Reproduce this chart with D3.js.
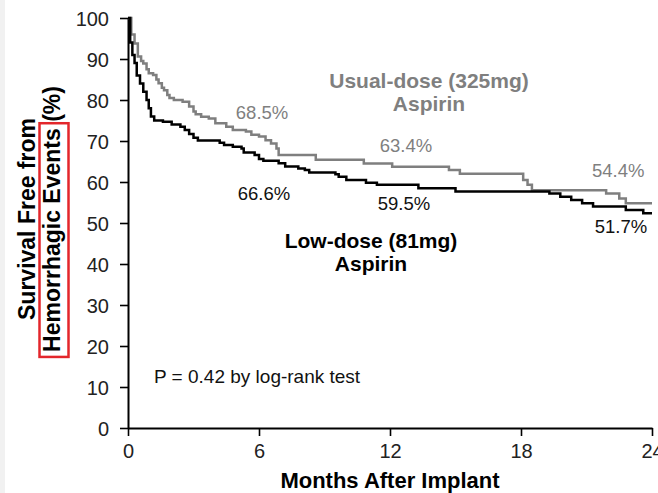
<!DOCTYPE html>
<html>
<head>
<meta charset="utf-8">
<script src="https://cdn.jsdelivr.net/npm/d3@7"></script>
<style>
  body { margin: 0; background: #fff; }
  svg { display: block; font-family: "Liberation Sans", Arial, sans-serif; }
</style>
</head>
<body>
<div id="chart"></div>
<script>
// Kaplan-Meier steps: [month, % free of events]
const lowDose = [
  [0, 100], [0.1, 94], [0.2, 91], [0.3, 89], [0.4, 86], [0.55, 84], [0.7, 82],
  [0.85, 80], [0.95, 78], [1.05, 76], [1.2, 75], [1.6, 74.7], [2.0, 74],
  [2.4, 73.5], [2.6, 72.7], [2.8, 71.7], [3.0, 70.8], [3.2, 70.1], [4.2, 69.6],
  [4.4, 69], [4.8, 68.6], [5.2, 68.2], [5.3, 67.2], [5.8, 66.6], [6.0, 65.6],
  [6.2, 65.2], [6.9, 64.6], [7.2, 63.8], [7.8, 63.3], [8.1, 62.9], [8.3, 62.3],
  [9.5, 61.9], [9.65, 61.3], [10.0, 60.5], [10.9, 59.8], [11.4, 59.3],
  [13.3, 58.5], [15.0, 57.7], [19.3, 57.2], [19.8, 56.4], [20.3, 55.6],
  [20.8, 54.8], [21.3, 54.0], [22.8, 53.2], [23.6, 52.4], [24, 52.4]
];
const usualDose = [
  [0, 100], [0.15, 96], [0.3, 93.8], [0.45, 90.6], [0.6, 89.5], [0.7, 88.9],
  [0.85, 87.5], [0.95, 86.5], [1.15, 86.1], [1.3, 85], [1.4, 84.1], [1.55, 83],
  [1.65, 82.4], [1.8, 81.2], [1.9, 80.5], [2.1, 80], [2.5, 79.6], [2.8, 78.4],
  [3.0, 77.2], [3.1, 76.5], [3.35, 75.9], [3.7, 75.5], [4.0, 74.3], [4.5, 73.5],
  [4.8, 72.7], [5.4, 72.3], [5.65, 71.5], [6.0, 71.1], [6.3, 70.2], [6.55, 69.4],
  [6.8, 68.2], [6.9, 66.6], [8.6, 65.4], [10.8, 64.5], [12.1, 63.7],
  [14.7, 62.9], [15.2, 62.0], [18.1, 60.5], [18.3, 59.3], [18.5, 58],
  [21.9, 57.2], [22.5, 56], [22.8, 54.8], [24, 54.8]
];
const xTicks = [0, 6, 12, 18, 24];
const yTicks = [0, 10, 20, 30, 40, 50, 60, 70, 80, 90, 100];
const usualLabels = ['68.5%', '63.4%', '54.4%'];
const lowLabels = ['66.6%', '59.5%', '51.7%'];

const width = 658, height = 493;
const margin = { top: 18, right: 6, bottom: 65, left: 128 };
const gray = '#7f7f7f';

const svg = d3.select('#chart').append('svg')
  .attr('width', width).attr('height', height);

// faint grey strip on the left edge of the scan
svg.append('rect').attr('width', 5).attr('height', height).attr('fill', '#f1f1f1');

const x = d3.scaleLinear().domain([0, 24]).range([margin.left, 652]);
const y = d3.scaleLinear().domain([0, 100]).range([height - margin.bottom, margin.top]);

// Axes
const xAxis = svg.append('g')
  .attr('transform', `translate(0, ${y(0)})`)
  .call(d3.axisBottom(x).tickValues(xTicks).tickSize(8).tickPadding(5).tickSizeOuter(0));
const yAxis = svg.append('g')
  .attr('transform', `translate(${x(0)}, 0)`)
  .call(d3.axisLeft(y).tickValues(yTicks).tickSize(8).tickPadding(11).tickSizeOuter(0));

[xAxis, yAxis].forEach(g => {
  g.select('.domain').attr('stroke', '#000').attr('stroke-width', 2);
  g.selectAll('.tick line').attr('stroke', '#000').attr('stroke-width', 1.6);
  g.selectAll('.tick text')
    .attr('fill', '#222')
    .style('font-size', '20px')
    .style('font-family', '"Liberation Sans", Arial, sans-serif');
});
yAxis.selectAll('.tick text').attr('dy', '0.36em');
xAxis.selectAll('.tick text').attr('dy', '0.85em');

// Curves
const line = d3.line()
  .x(d => x(d[0]))
  .y(d => y(d[1]))
  .curve(d3.curveStepAfter);

svg.append('path').datum(usualDose)
  .attr('d', line).attr('fill', 'none')
  .attr('stroke', gray).attr('stroke-width', 2.5);
svg.append('path').datum(lowDose)
  .attr('d', line).attr('fill', 'none')
  .attr('stroke', '#000').attr('stroke-width', 2.5);

// Percentage annotations
const usualPos = [[6.14, 75.4], [12.73, 67.4], [22.45, 61.3]];
const lowPos = [[6.23, 55.6], [12.64, 53.2], [22.58, 47.6]];
svg.append('g').selectAll('text').data(usualLabels).join('text')
  .attr('x', (d, i) => x(usualPos[i][0]))
  .attr('y', (d, i) => y(usualPos[i][1]))
  .attr('text-anchor', 'middle').attr('fill', gray)
  .style('font-size', '18.5px')
  .text(d => d);
svg.append('g').selectAll('text').data(lowLabels).join('text')
  .attr('x', (d, i) => x(lowPos[i][0]))
  .attr('y', (d, i) => y(lowPos[i][1]))
  .attr('text-anchor', 'middle').attr('fill', '#111')
  .style('font-size', '18.5px')
  .text(d => d);

// Group labels
const groupLabel = (lines, cx, baseline, color) => {
  const t = svg.append('text')
    .attr('text-anchor', 'middle').attr('fill', color)
    .style('font-size', '21px').style('font-weight', 'bold');
  lines.forEach((s, i) => {
    t.append('tspan').attr('x', cx).attr('y', baseline + i * 23).text(s);
  });
};
groupLabel(['Usual-dose (325mg)', 'Aspirin'], 429, 88, gray);
groupLabel(['Low-dose (81mg)', 'Aspirin'], 371, 248, '#000');

svg.append('text')
  .attr('x', 154).attr('y', 383)
  .attr('fill', '#111')
  .style('font-size', '19px')
  .text('P = 0.42 by log-rank test');

// Axis titles
svg.append('text')
  .attr('x', x(12)).attr('y', 488)
  .attr('text-anchor', 'middle')
  .style('font-size', '22px').style('font-weight', 'bold')
  .text('Months After Implant');

const yCenter = 219;
svg.append('text')
  .attr('transform', `translate(35, ${yCenter}) rotate(-90)`)
  .attr('text-anchor', 'middle')
  .style('font-size', '23px').style('font-weight', 'bold')
  .text('Survival Free from');
const yTitle2 = svg.append('text')
  .attr('transform', `translate(60, ${yCenter}) rotate(-90)`)
  .attr('text-anchor', 'middle')
  .style('font-size', '23px').style('font-weight', 'bold')
  .text('Hemorrhagic Events (%)');

// red box around "Hemorrhagic Events"
const node = yTitle2.node();
const total = node.getComputedTextLength();
const part = node.getSubStringLength(0, 'Hemorrhagic Events'.length);
const pad = 5;
svg.append('rect')
  .attr('x', 39.5)
  .attr('y', yCenter - total / 2 + total - part - pad)
  .attr('width', 29)
  .attr('height', part + 2 * pad)
  .attr('fill', 'none')
  .attr('stroke', '#e3262b')
  .attr('stroke-width', 2.5);
</script>
</body>
</html>
